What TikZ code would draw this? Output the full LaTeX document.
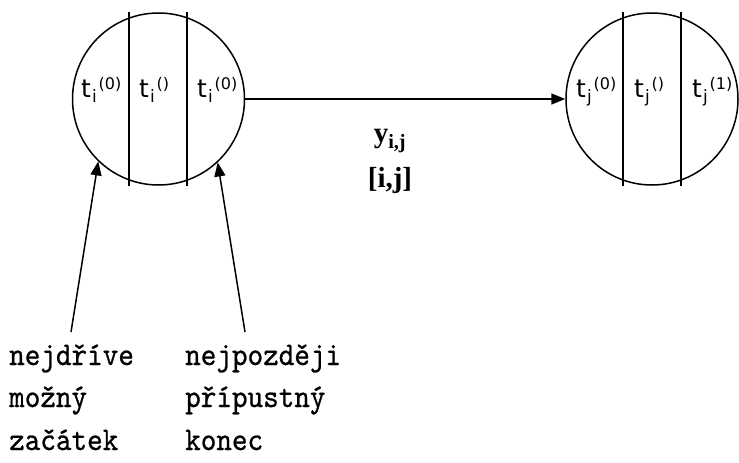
\documentclass[tikz,border=0pt]{standalone}
\usepackage{fontspec}
\setmainfont{Liberation Serif}
\newfontfamily\sansf{DejaVu Sans}
\newfontfamily\monof{lmmono10-regular.otf}[FakeBold=0.7,FakeStretch=0.9]
\usetikzlibrary{arrows.meta,calc}
\newcommand{\tlab}[3]{{\sansf\fontsize{25}{25}\selectfont #1\kern1pt\raisebox{-5pt}{\fontsize{17}{17}\selectfont #2}\kern2pt\raisebox{8pt}{\fontsize{16}{16}\selectfont #3}}}
\tikzset{
  node circ/.style={circle, draw, line width=1.5pt, minimum size=172pt, inner sep=0pt},
  divider/.style={line width=1.5pt},
  conn/.style={line width=1.5pt, -{Triangle[length=14pt,width=11pt]}},
  cell/.style={anchor=base west, inner sep=0pt},
  mono/.style={anchor=base west, inner sep=0pt, font=\monof\fontsize{33}{33}\selectfont},
  edgelab/.style={inner sep=0pt, font=\bfseries\fontsize{29}{29}\selectfont}
}
\begin{document}
\begin{tikzpicture}[x=1pt,y=-1pt]
\useasboundingbox (0,0) rectangle (739,463);
% nodes (circles)
\node[node circ] (L) at (158.5,99) {};
\node[node circ] (R) at (652,99) {};
% labels inside circles, clipped
\begin{scope}
\clip (L.center) circle (86pt);
\node[cell] (l1) at (81,97) {\tlab{t}{i}{(0)}};
\node[cell] (l2) at (139,97) {\tlab{t}{i}{()}};
\node[cell] (l3) at (197,97) {\tlab{t}{i}{(0)}};
\end{scope}
\begin{scope}
\clip (R.center) circle (86pt);
\node[cell] (r1) at (576,97) {\tlab{t}{j}{(0)}};
\node[cell] (r2) at (634,97) {\tlab{t}{j}{()}};
\node[cell] (r3) at (692,97) {\tlab{t}{j}{(1)}};
\end{scope}
% dividers
\draw[divider] ($(L.center)+(-29.5,-87)$) -- ++(0,174);
\draw[divider] ($(L.center)+(28.5,-87)$) -- ++(0,174);
\draw[divider] ($(R.center)+(-29,-87)$) -- ++(0,174);
\draw[divider] ($(R.center)+(29,-87)$) -- ++(0,174);
% main connector
\draw[conn] (L.east) -- (R.west);
\node[edgelab] (y) at (390,141) {y\textsubscript{i,j}};
\node[edgelab] (ij) at (390,181) {[i,j]};
% lower arrows
\coordinate (a1) at (71,332);
\coordinate (a2) at (245,332);
\draw[conn] (a1) -- (L.226);
\draw[conn] (a2) -- (L.313);
% bottom texts
\node[mono] (t1) at (9,365) {nejdříve};
\node[mono] (t2) at (9,407) {možný};
\node[mono] (t3) at (9,450) {začátek};
\node[mono] (t4) at (185,365) {nejpozději};
\node[mono] (t5) at (185,407) {přípustný};
\node[mono] (t6) at (185,450) {konec};
\end{tikzpicture}
\end{document}
